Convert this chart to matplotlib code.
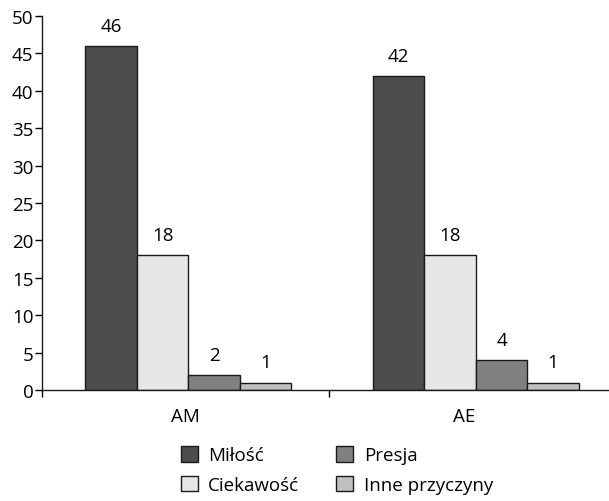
import matplotlib.pyplot as plt
import numpy as np

groups = ['AM', 'AE']
series = ['Miłość', 'Ciekawość', 'Presja', 'Inne przyczyny']
milosc = [46, 42]
ciekawosc = [18, 18]
presja = [2, 4]
inne = [1, 1]

colors = ['#4d4d4d', '#e6e6e6', '#808080', '#c0c0c0']

plt.rcParams['font.family'] = ['Open Sans', 'DejaVu Sans']

fig = plt.figure(figsize=(6.09, 5.02), dpi=100)
ax = fig.add_axes([0.0685, 0.221, 0.9315, 0.745])

x = np.arange(len(groups)) + 0.01
width = 0.179
values = [milosc, ciekawosc, presja, inne]
handles = []
for i, (name, vals) in enumerate(zip(series, values)):
    pos = x + (i - 1.5) * width
    b = ax.bar(pos, vals, width, color=colors[i], edgecolor='#1a1a1a', linewidth=1, label=name)
    handles.append(b)
    for p, v in zip(pos, vals):
        ax.text(p, v + 1.5, str(v), ha='center', va='bottom', fontsize=13.5)

ax.set_xlim(-0.5, 1.473)
ax.set_ylim(0, 50)
ax.set_yticks(range(0, 51, 5))
ax.tick_params(axis='y', labelsize=13.5, length=5, width=1, pad=1)

# category labels between group boundary ticks
ax.set_xticks([0, 0.97])
ax.set_xticklabels(groups, fontsize=13.5)
ax.tick_params(axis='x', which='major', length=0, pad=12)
ax.set_xticks([-0.5, 0.5], minor=True)
ax.tick_params(axis='x', which='minor', length=5, width=1)

for s in ['top', 'right']:
    ax.spines[s].set_visible(False)
for s in ['left', 'bottom']:
    ax.spines[s].set_linewidth(1)
    ax.spines[s].set_color('#1a1a1a')

# legend order: Miłość, Ciekawość | Presja, Inne przyczyny
fig.legend(handles, series, loc='center', bbox_to_anchor=(0.553, 0.062), ncol=2,
           frameon=False, fontsize=13.5, handlelength=0.9, handleheight=0.9,
           columnspacing=2.0, labelspacing=0.6, handletextpad=0.55)

fig.savefig('out.png', dpi=100)
